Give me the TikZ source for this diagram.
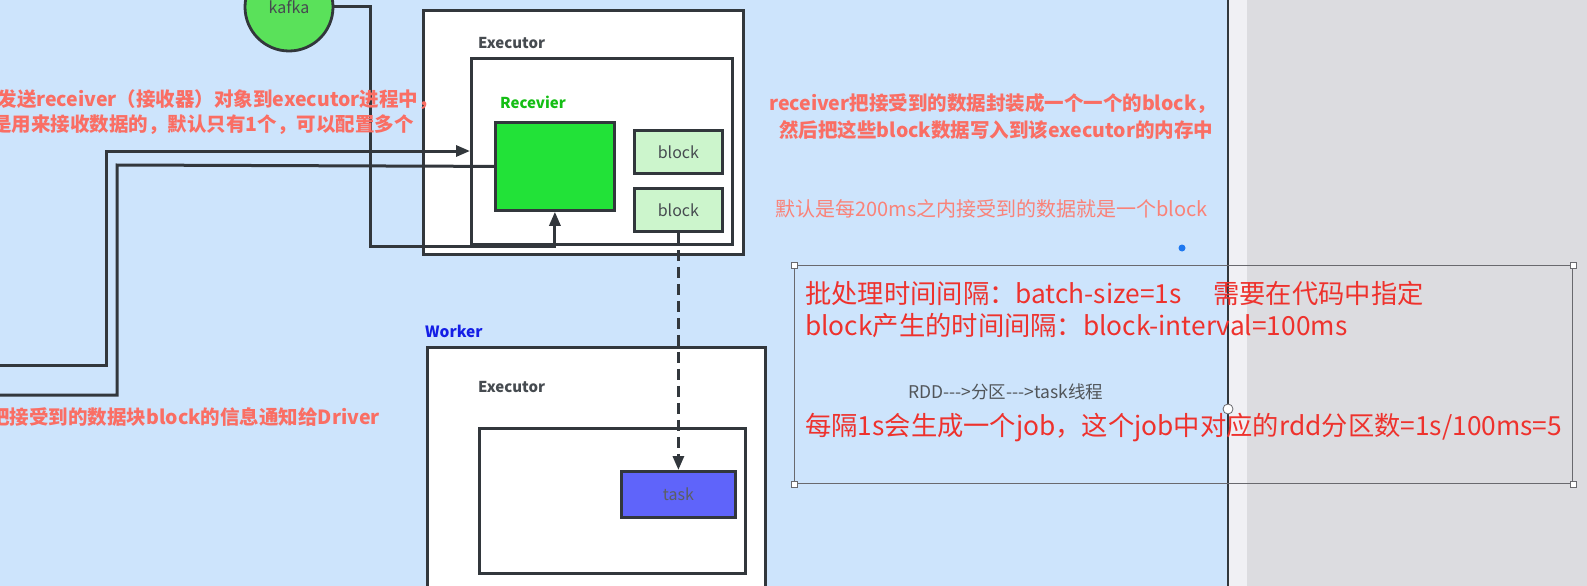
\documentclass[tikz,border=0pt]{standalone}
\usepackage{fontspec}
\setmainfont{Noto Sans CJK SC}
\usetikzlibrary{arrows.meta}
\definecolor{bgblue}{RGB}{205,228,252}
\definecolor{stripw}{RGB}{240,240,244}
\definecolor{grayr}{RGB}{220,220,224}
\definecolor{dark}{RGB}{50,55,60}
\definecolor{kafkag}{RGB}{90,225,90}
\definecolor{recg}{RGB}{34,226,56}
\definecolor{blockg}{RGB}{204,245,204}
\definecolor{taskb}{RGB}{95,100,250}
\definecolor{reclbl}{RGB}{20,190,20}
\definecolor{workerlbl}{RGB}{20,30,230}
\definecolor{salmon}{RGB}{250,110,100}
\definecolor{salmonlt}{RGB}{250,130,120}
\definecolor{redtxt}{RGB}{238,50,45}
\definecolor{selgray}{RGB}{105,105,110}
\definecolor{dotblue}{RGB}{30,120,240}
\begin{document}
\begin{tikzpicture}[x=1pt,y=-1pt,
  box/.style={draw=dark,line width=2.8pt,fill=white,inner sep=0pt,anchor=north west},
  conn/.style={draw=dark,line width=3pt},
  tip/.style={-{Triangle[length=14pt,width=11pt]}},
  lbl/.style={inner sep=0pt,anchor=west,font=\fontsize{15}{18}\selectfont\bfseries},
  small/.style={font=\fontsize{16}{18}\selectfont,text=dark!90},
  note/.style={inner sep=0pt,font=\fontsize{19.5}{24}\selectfont\bfseries,text=salmon},
  boxtxt/.style={inner sep=0pt,anchor=west,font=\fontsize{26.3}{30}\selectfont,text=redtxt},
  handle/.style={draw=selgray,fill=white,line width=0.8pt,minimum size=6pt,inner sep=0pt}
]
\useasboundingbox (0,0) rectangle (1587,586);
\clip (0,0) rectangle (1587,586);
% backgrounds
\fill[bgblue] (0,0) rectangle (1228,586);
\fill[stripw] (1228,0) rectangle (1247,586);
\fill[grayr] (1247,0) rectangle (1587,586);
\draw[dark,line width=2.5pt] (1228,0) -- (1228,586);

% kafka
\node[circle,draw=dark,line width=2.8pt,fill=kafkag,minimum size=88pt,inner sep=0pt,small] (kafka) at (289,7) {kafka};

% upper executor
\node[box,minimum width=320pt,minimum height=244pt] (exec1) at (422,9) {};
\node[lbl,text=dark!90] (exec1lbl) at (478,43) {Executor};
\node[box,minimum width=261pt,minimum height=186pt] (inner1) at (470,57) {};
\node[lbl,text=reclbl] (reclbl) at (500,102) {Recevier};
\node[box,fill=recg,minimum width=119pt,minimum height=88pt] (green) at (494,121) {};
\node[box,fill=blockg,minimum width=88pt,minimum height=43pt] (block1) at (633,129) {};
\node[small] at (block1.center) {block};
\node[box,fill=blockg,minimum width=88pt,minimum height=43pt] (block2) at (633,187) {};
\node[small] at (block2.center) {block};

% worker
\node[lbl,text=workerlbl,font=\fontsize{15.5}{18}\selectfont\bfseries] (wlbl) at (425,331) {Worker};
\node[box,minimum width=338pt,minimum height=280pt] (worker) at (426,346) {};
\node[lbl,text=dark!90] (exec2lbl) at (478,387) {Executor};
\node[box,minimum width=266pt,minimum height=145pt] (inner2) at (478,427) {};
\node[box,fill=taskb,minimum width=114pt,minimum height=46pt] (task) at (620,470) {};
\node[small,text=dark!80] at (task.center) {task};

% connectors
\coordinate (b1) at (370,246);
\draw[conn,tip] (kafka.east) -| (b1) -| (green.south);
\coordinate (s1) at (-5,365);
\coordinate (c1) at (106,151);
\draw[conn,tip] (s1) -| (c1) -- (inner1.west |- c1);
\coordinate (s2) at (-5,395);
\coordinate (c2) at (117,165);
\draw[conn] (s2) -| (c2) -- (green.west);
\draw[conn,tip,dash pattern=on 11pt off 6pt] (block2.south) -- (task.north);

% left notes
\node[note,anchor=east] (n1) at (438,100) {发送receiver（接收器）对象到executor进程中，};
\node[note,anchor=east] (n2) at (414,125) {是用来接收数据的，默认只有1个，可以配置多个};
\node[note,anchor=east] (n3) at (380,417) {把接受到的数据块block的信息通知给Driver};

% right notes
\node[note,anchor=west] (r1) at (769,104) {receiver把接受到的数据封装成一个一个的block，};
\node[note,anchor=west] (r2) at (779,130) {然后把这些block数据写入到该executor的内存中};
\node[inner sep=0pt,anchor=west,font=\fontsize{20}{24}\selectfont,text=salmonlt] (r3) at (775,209) {默认是每200ms之内接受到的数据就是一个block};

% selected text box
\node[draw=selgray,line width=1.3pt,minimum width=778pt,minimum height=218pt,inner sep=0pt,anchor=north west] (sel) at (794,265) {};
\node[handle] at (sel.north west) {};
\node[handle] at (sel.north east) {};
\node[handle] at (sel.south west) {};
\node[handle] at (sel.south east) {};
\node[circle,draw=selgray,fill=white,line width=0.8pt,minimum size=10pt,inner sep=0pt] (rot) at (1228,409) {};
\fill[dotblue] (1182,248) circle (3.5);

\node[boxtxt] (t1) at (805,293) {批处理时间间隔：batch-size=1s\hspace{1.2em}需要在代码中指定};
\node[boxtxt] (t2) at (805,326) {block产生的时间间隔：block-interval=100ms};
\node[inner sep=0pt,anchor=west,font=\fontsize{17.5}{20}\selectfont,text=dark!85] (t3) at (908,392) {RDD{-}{-}{-}>分区{-}{-}{-}>task线程};
\node[boxtxt] (t4) at (805,428) {每隔1s会生成一个job，这个job中对应的rdd分区数=1s/100ms=5};
\end{tikzpicture}
\end{document}
